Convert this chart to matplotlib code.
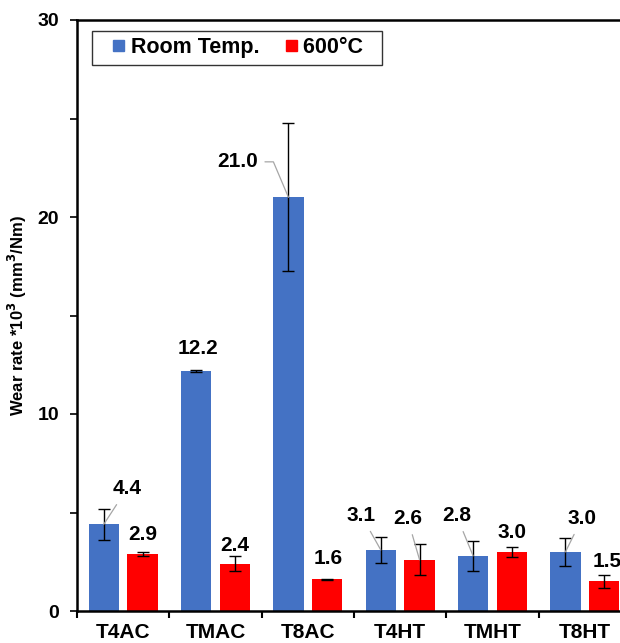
import matplotlib
matplotlib.use("Agg")
import matplotlib.pyplot as plt
import numpy as np
from matplotlib.legend_handler import HandlerPatch
from matplotlib.patches import Patch, Rectangle

plt.rcParams["font.family"] = ["Liberation Sans", "DejaVu Sans"]
plt.rcParams["font.weight"] = "bold"

categories = ["T4AC", "TMAC", "T8AC", "T4HT", "TMHT", "T8HT"]
room_temp = [4.4, 12.2, 21.0, 3.1, 2.8, 3.0]
room_err = [0.78, 0.05, 3.75, 0.65, 0.75, 0.71]
hot = [2.9, 2.4, 1.6, 2.6, 3.0, 1.5]
hot_err = [0.12, 0.37, 0.03, 0.78, 0.24, 0.35]

# label placement: (dx from bar centre, y of label, leader style)
room_lbl = [(0.25, 6.2, "line"), (0.02, 13.3, None), (-0.55, 22.8, "elbow"),
            (-0.21, 4.85, "line"), (-0.18, 4.85, "line"), (0.18, 4.7, "line")]
hot_lbl = [(0.0, 3.9, None), (0.0, 3.35, None), (0.01, 2.65, None),
           (-0.13, 4.7, "line"), (0.0, 4.0, None), (0.03, 2.5, None)]

BLUE = "#4472C4"
RED = "#FF0000"
LBL_SIZE = 15

fig = plt.figure(figsize=(6.2, 6.43), dpi=100)
ax = fig.add_axes([77 / 620, 32 / 643, 554 / 620, 591 / 643])

x = np.arange(len(categories))
off = 0.21
w = 0.33
ekw = dict(ecolor="black", elinewidth=1.0, capsize=4, capthick=1.0)
ax.bar(x - off, room_temp, w, color=BLUE, yerr=room_err, error_kw=ekw, zorder=2)
ax.bar(x + off, hot, w, color=RED, yerr=hot_err, error_kw=ekw, zorder=2)


def put_labels(xs, vals, lbls):
    for xc, v, (dx, ly, lead) in zip(xs, vals, lbls):
        txt = f"{v:.1f}"
        if lead is None:
            ax.text(xc + dx, ly, txt, ha="center", va="center",
                    fontsize=LBL_SIZE, fontweight="bold")
            continue
        props = dict(arrowstyle="-", color="#A6A6A6", lw=0.9,
                     shrinkA=3, shrinkB=0)
        if lead == "elbow":
            props["connectionstyle"] = "angle,angleA=0,angleB=113,rad=0"
            props["relpos"] = (1.0, 0.5)
        ax.annotate(txt, xy=(xc, v), xytext=(xc + dx, ly),
                    ha="center", va="center", fontsize=LBL_SIZE,
                    fontweight="bold", arrowprops=props)


put_labels(x - off, room_temp, room_lbl)
put_labels(x + off, hot, hot_lbl)

ax.set_xlim(-0.5, 5.5)
ax.set_ylim(0, 30)
ax.set_yticks([0, 10, 20, 30])
ax.set_yticks([5, 15, 25], minor=True)
ax.set_xticks(x)
ax.set_xticklabels(categories)
ax.set_xticks(np.arange(-0.5, 6, 1), minor=True)
ax.tick_params(axis="x", which="major", length=0, labelsize=15, pad=9)
ax.tick_params(axis="x", which="minor", length=5, width=1.5, direction="out")
ax.tick_params(axis="y", which="both", length=5, width=1.2, direction="out",
               labelsize=14, pad=8)
for lab in ax.get_xticklabels() + ax.get_yticklabels():
    lab.set_fontweight("bold")
for s in ax.spines.values():
    s.set_linewidth(1.8)
ax.set_ylabel("Wear rate *10$^{\\mathbf{3}}$ (mm$^{\\mathbf{3}}$/Nm)",
              fontsize=12, fontweight="bold", labelpad=6)


# small square sitting at the right end of a wider handle box
def square(legend, orig_handle, xdescent, ydescent, width, height, fontsize):
    s = 0.52 * fontsize
    return Rectangle((-xdescent + width - s, -ydescent + (height - s) / 2), s, s)


handles = [Patch(color=BLUE, label="Room Temp."), Patch(color=RED, label="600°C  ")]
leg = ax.legend(handles=handles, loc="upper left", bbox_to_anchor=(0.027, 0.982),
                ncol=2, fontsize=15.5, frameon=True, fancybox=False,
                edgecolor="black", handler_map={Patch: HandlerPatch(patch_func=square)},
                handlelength=1.2, handleheight=0.7, handletextpad=0.3,
                columnspacing=0.55, borderpad=0.3, borderaxespad=0)
leg.get_frame().set_linewidth(1.0)
for t in leg.get_texts():
    t.set_fontweight("bold")

fig.savefig("out.png", dpi=100)
